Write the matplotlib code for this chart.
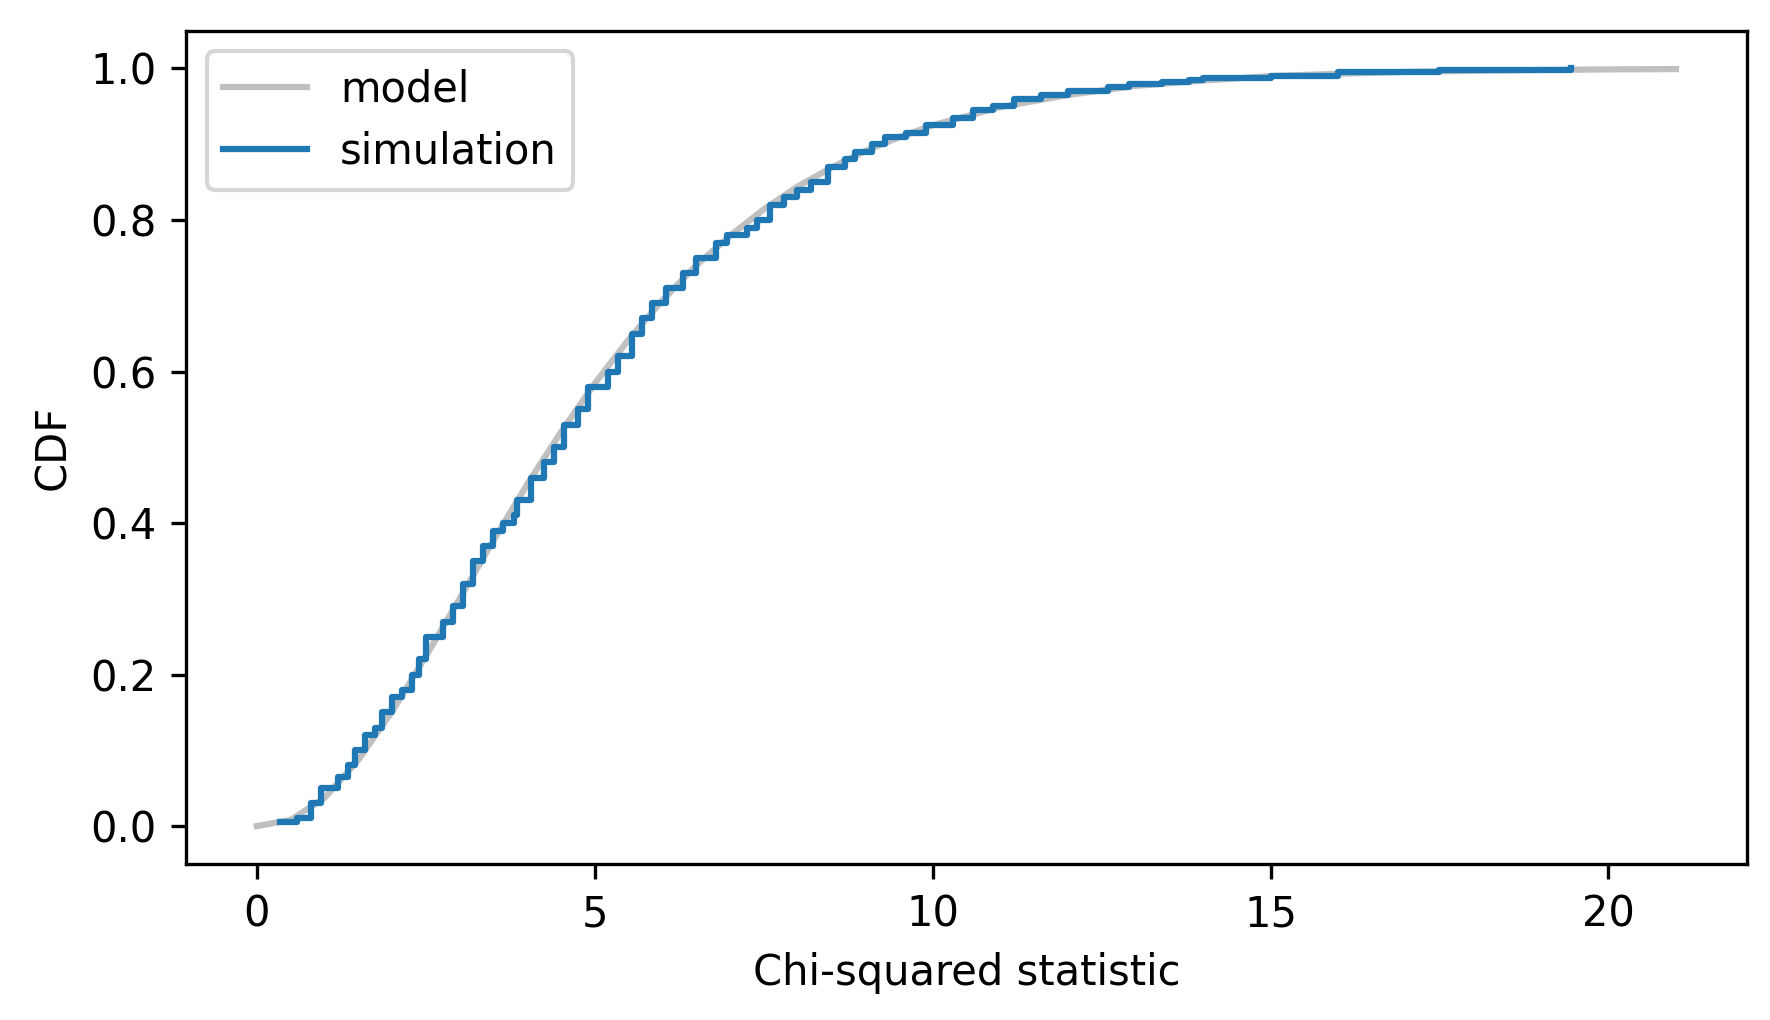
import matplotlib
matplotlib.use("Agg")
import matplotlib.pyplot as plt

# model curve
model_x = [0, 0.5, 1, 1.5, 2, 2.5, 3, 3.5, 4, 4.5, 5, 5.5, 6, 6.5, 7, 7.5, 8, 8.5,
           9, 9.5, 10, 11, 12, 13, 14, 15, 16, 17, 18, 19, 20, 21]
model_y = [0, 0.008, 0.037, 0.087, 0.151, 0.224, 0.300, 0.377, 0.451, 0.520, 0.584,
           0.642, 0.694, 0.740, 0.779, 0.814, 0.844, 0.869, 0.891, 0.909, 0.925,
           0.949, 0.965, 0.977, 0.984, 0.990, 0.993, 0.9955, 0.997, 0.998, 0.9988, 0.9992]

# simulated CDF steps
sim_x = [0.35, 0.6, 0.8, 0.95, 1.2, 1.35, 1.45, 1.6, 1.75, 1.85, 2.0, 2.15, 2.3, 2.4, 2.5,
         2.75, 2.9, 3.05, 3.2, 3.35, 3.5, 3.65, 3.8, 3.85, 4.05, 4.25, 4.4, 4.55, 4.75, 4.9,
         5.2, 5.35, 5.55, 5.7, 5.85, 6.05, 6.3, 6.5, 6.8, 6.95, 7.25, 7.4, 7.6, 7.8, 8.0,
         8.2, 8.45, 8.7, 8.85, 9.1, 9.3, 9.6, 9.9, 10.3, 10.6, 10.9, 11.2, 11.6, 12.0, 12.6,
         12.9, 13.4, 13.8, 14.0, 15.0, 16.0, 17.5, 19.45]
sim_y = [0.005, 0.01, 0.03, 0.05, 0.065, 0.08, 0.1, 0.12, 0.13, 0.15, 0.17, 0.18, 0.2, 0.22, 0.25,
         0.27, 0.29, 0.32, 0.35, 0.37, 0.39, 0.40, 0.41, 0.43, 0.46, 0.48, 0.50, 0.53, 0.55, 0.58,
         0.60, 0.62, 0.65, 0.67, 0.69, 0.71, 0.73, 0.75, 0.77, 0.78, 0.79, 0.80, 0.82, 0.83, 0.84,
         0.85, 0.87, 0.88, 0.89, 0.90, 0.91, 0.915, 0.925, 0.935, 0.945, 0.95, 0.96, 0.965, 0.97, 0.975,
         0.98, 0.982, 0.985, 0.987, 0.99, 0.995, 0.998, 1.0]

fig = plt.figure(figsize=(5.9, 3.4), dpi=300)
ax = fig.add_axes([0.105, 0.153, 0.882, 0.817])
ax.plot(model_x, model_y, color='silver', label='model')
ax.plot(sim_x, sim_y, color='C0', drawstyle='steps-post', label='simulation')
ax.set_xlabel('Chi-squared statistic')
ax.set_ylabel('CDF')
ax.legend(loc='upper left')
fig.savefig('out.png')
